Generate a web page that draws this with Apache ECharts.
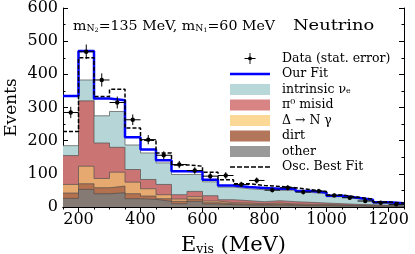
<!DOCTYPE html>
<html><head><meta charset="utf-8">
<script src="https://cdn.jsdelivr.net/npm/echarts@6/dist/echarts.min.js"></script>
<style>html,body{margin:0;padding:0;background:#fff}#c{width:415px;height:254px}</style>
</head><body><div id="c"></div>
<script>
// ---- data (bin edges in MeV, events per bin) ----
const binEdges = [150,200,250,300,350,400,450,500,550,600,650,700,750,800,850,900,950,1000,1050,1100,1150,1200,1250];
const other     = [26,53,40,43,25,23,17,10,17,9,7,6,5,6,5,4,4,3,3,2,2,1];
const dirt      = [16,17,18,20,15,10,8,7,7,4,3,3,3,3,2,2,2,2,1,1,1,1];
const deltaNg   = [26,53,28,42,35,22,12,7,7,5,3,3,2,3,2,2,2,1,1,1,0,0];
const pi0       = [87,197,107,75,38,28,31,13,16,16,9,7,6,7,7,6,4,4,3,3,2,2];
const intrinsic = [30,63,82,108,74,80,65,61,51,42,38,36,36,31,34,30,28,21,17,13,7,5];
const ourFit    = [335,470,327,322,210,173,141,108,107,82,65,60,57,55,55,48,44,34,28,22,14,11];
const oscFit    = [228,450,333,355,238,201,163,127,123,105,82,70,65,62,58,52,46,36,30,24,15,12];
const dataVals  = [285,468,383,315,263,203,156,128,110,93,95,68,80,51,58,45,48,35,28,18,13,8];
const dataErr   = [17,22,20,18,16,14,12,11,10,10,10,8,9,7,8,7,7,6,5,4,4,3];
const xTicks = [200,400,600,800,1000,1200];
const xMinorTicks = [150,250,300,350,450,500,550,650,700,750,850,900,950,1050,1100,1150,1250];
const yTicks = [0,100,200,300,400,500,600];
const yMinorTicks = [50,150,250,350,450,550];

const FONT = 'DejaVu Serif';
function stepData(vals){ return binEdges.map((e,i)=>[e, vals[Math.min(i, vals.length-1)]]); }
function addArr(a,b){ return a.map((v,i)=>v+b[i]); }
const cumOther = other;
const cumDirt = addArr(cumOther, dirt);
const cumDelta = addArr(cumDirt, deltaNg);
const cumPi0 = addArr(cumDelta, pi0);
const cumIntr = addArr(cumPi0, intrinsic);
const centers = binEdges.slice(0,-1).map((e,i)=>(e+binEdges[i+1])/2);
const halfW = binEdges.slice(0,-1).map((e,i)=>(binEdges[i+1]-e)/2);
const pts = dataVals.map((v,i)=>[centers[i], v, dataErr[i], halfW[i]]);

const stackCols = {
  other:'#857a74', dirt:'#b4714f', delta:'#e6a970', pi0:'#cb7474', intrinsic:'#b5d5d6'
};
const legendCols = {
  other:'#9a9a9a', dirt:'#b3765a', delta:'#fbd896', pi0:'#d88484', intrinsic:'#b8d7d8'
};
function area(name, vals, col, z){
  return {name, type:'line', step:'end', data:stepData(vals), symbol:'none', showSymbol:false,
    lineStyle:{color:'#4d4d4d', width:0.8, opacity:0.85}, areaStyle:{color:col, opacity:1, origin:'start'}, z:z};
}
const chart = echarts.init(document.getElementById('c'), null, {renderer:'canvas'});
const xBase = {type:'value', min:150, max:1250, splitLine:{show:false}};
const yBase = {type:'value', min:0, max:600, splitLine:{show:false}};
const dashIcon = 'path://M0,0h5v1.6h-5z M7,0h5v1.6h-5z M14,0h5v1.6h-5z M21,0h5v1.6h-5z M28,0h5v1.6h-5z M35,0h5v1.6h-5z';
chart.setOption({
  animation:false,
  backgroundColor:'#fff',
  grid:{left:63, right:11, top:8, bottom:47, containLabel:false, outerBoundsMode:'none'},
  xAxis:[
    Object.assign({}, xBase, {position:'bottom',
      axisLine:{show:true, lineStyle:{color:'#000', width:1}},
      axisTick:{show:true, inside:true, length:5, customValues:xTicks, lineStyle:{color:'#000'}},
      axisLabel:{customValues:xTicks, formatter:function(v){return String(v);}, fontFamily:FONT, fontSize:16, color:'#000', margin:5},
      name:'{a|E}{s|vis}{a| (MeV)}', nameLocation:'middle', nameGap:26, nameMoveOverlap:false,
      nameTextStyle:{rich:{a:{fontFamily:FONT, fontSize:21, color:'#000', lineHeight:23, verticalAlign:'bottom'},
                           s:{fontFamily:FONT, fontSize:12.5, color:'#000', lineHeight:14, verticalAlign:'bottom'}}}}),
    Object.assign({}, xBase, {position:'bottom', axisLine:{show:false}, axisLabel:{show:false},
      axisTick:{show:true, inside:true, length:2.5, customValues:xMinorTicks, lineStyle:{color:'#000'}}}),
    Object.assign({}, xBase, {position:'top', axisLine:{show:true, lineStyle:{color:'#000'}}, axisLabel:{show:false},
      axisTick:{show:true, inside:true, length:5, customValues:xTicks, lineStyle:{color:'#000'}}}),
    Object.assign({}, xBase, {position:'top', axisLine:{show:false}, axisLabel:{show:false},
      axisTick:{show:true, inside:true, length:2.5, customValues:xMinorTicks, lineStyle:{color:'#000'}}})
  ],
  yAxis:[
    Object.assign({}, yBase, {position:'left',
      axisLine:{show:true, lineStyle:{color:'#000'}},
      axisTick:{show:true, inside:true, length:5, customValues:yTicks, lineStyle:{color:'#000'}},
      axisLabel:{customValues:yTicks, fontFamily:FONT, fontSize:16, color:'#000', margin:5},
      name:'Events', nameLocation:'middle', nameGap:43, nameMoveOverlap:false,
      nameTextStyle:{fontFamily:FONT, fontSize:17, color:'#000'}}),
    Object.assign({}, yBase, {position:'left', axisLine:{show:false}, axisLabel:{show:false},
      axisTick:{show:true, inside:true, length:2.5, customValues:yMinorTicks, lineStyle:{color:'#000'}}}),
    Object.assign({}, yBase, {position:'right', axisLine:{show:true, lineStyle:{color:'#000'}}, axisLabel:{show:false},
      axisTick:{show:true, inside:true, length:5, customValues:yTicks, lineStyle:{color:'#000'}}}),
    Object.assign({}, yBase, {position:'right', axisLine:{show:false}, axisLabel:{show:false},
      axisTick:{show:true, inside:true, length:2.5, customValues:yMinorTicks, lineStyle:{color:'#000'}}})
  ],
  legend:{
    orient:'vertical', left:230, top:52, padding:0, itemWidth:40, itemHeight:11, itemGap:2.5,
    textStyle:{fontFamily:FONT, fontSize:12.5, color:'#000', padding:[0,0,0,7]},
    data:[
      {name:'Data (stat. error)', icon:'path://M0,5.5h12v1h-12z M5.5,0h1v12h-1z M6,3.9a2.1,2.1 0 1 1 0,4.2a2.1,2.1 0 1 1 0,-4.2z', itemStyle:{color:'#000'}},
      {name:'Our Fit', icon:'path://M0,0h40v2.5h-40z', itemStyle:{color:'#0000ff'}},
      {name:'intrinsic \u03bd\u2091', icon:'rect', itemStyle:{color:legendCols.intrinsic, borderWidth:0}},
      {name:'\u03c0\u2070 misid', icon:'rect', itemStyle:{color:legendCols.pi0, borderWidth:0}},
      {name:'\u0394 \u2192 N \u03b3', icon:'rect', itemStyle:{color:legendCols.delta, borderWidth:0}},
      {name:'dirt', icon:'rect', itemStyle:{color:legendCols.dirt, borderWidth:0}},
      {name:'other', icon:'rect', itemStyle:{color:legendCols.other, borderWidth:0}},
      {name:'Osc. Best Fit', icon:dashIcon, itemStyle:{color:'#000'}}
    ]
  },
  graphic:[
    {type:'text', x:73, y:17, scaleX:1.09, z:100, style:{
      text:'{a|m}{s|N}{t|2}{a|=135 MeV, m}{s|N}{t|1}{a|=60 MeV}',
      rich:{a:{fontFamily:FONT, fontSize:13, fill:'#000', lineHeight:16, verticalAlign:'bottom'},
            s:{fontFamily:FONT, fontSize:8.5, fill:'#000', lineHeight:6.6, verticalAlign:'bottom'},
            t:{fontFamily:FONT, fontSize:6, fill:'#000', lineHeight:1.8, verticalAlign:'bottom'}}}},
    {type:'text', x:293, y:18, scaleX:1.15, z:100, style:{text:'Neutrino', fontFamily:FONT, fontSize:15.5, fill:'#000'}}
  ],
  series:[
    area('intrinsic \u03bd\u2091', cumIntr, stackCols.intrinsic, 1),
    area('\u03c0\u2070 misid', cumPi0, stackCols.pi0, 1.1),
    area('\u0394 \u2192 N \u03b3', cumDelta, stackCols.delta, 1.2),
    area('dirt', cumDirt, stackCols.dirt, 1.3),
    area('other', cumOther, stackCols.other, 1.4),
    {name:'Our Fit', type:'line', step:'end', data:stepData(ourFit), symbol:'none', showSymbol:false,
      lineStyle:{color:'#0000ff', width:2.5}, itemStyle:{color:'#0000ff'}, z:3},
    {name:'Osc. Best Fit', type:'line', step:'end', data:stepData(oscFit), symbol:'none', showSymbol:false,
      lineStyle:{color:'#000', width:1.5, type:[4,2]}, itemStyle:{color:'#000'}, z:4},
    {name:'Data (stat. error)', type:'custom', data:pts, z:5, itemStyle:{color:'#000'},
      renderItem:function(params, api){
        const x=api.value(0), y=api.value(1), e=api.value(2), hw=api.value(3);
        const c=api.coord([x,y]), l=api.coord([x-hw,y]), r=api.coord([x+hw,y]);
        const t=api.coord([x,y+e]), b=api.coord([x,y-e]);
        return {type:'group', children:[
          {type:'line', shape:{x1:l[0],y1:l[1],x2:r[0],y2:r[1]}, style:{stroke:'#000', lineWidth:1}},
          {type:'line', shape:{x1:t[0],y1:t[1],x2:b[0],y2:b[1]}, style:{stroke:'#000', lineWidth:1}},
          {type:'circle', shape:{cx:c[0],cy:c[1],r:2.2}, style:{fill:'#000'}}
        ]};
      }}
  ]
});
</script></body></html>
